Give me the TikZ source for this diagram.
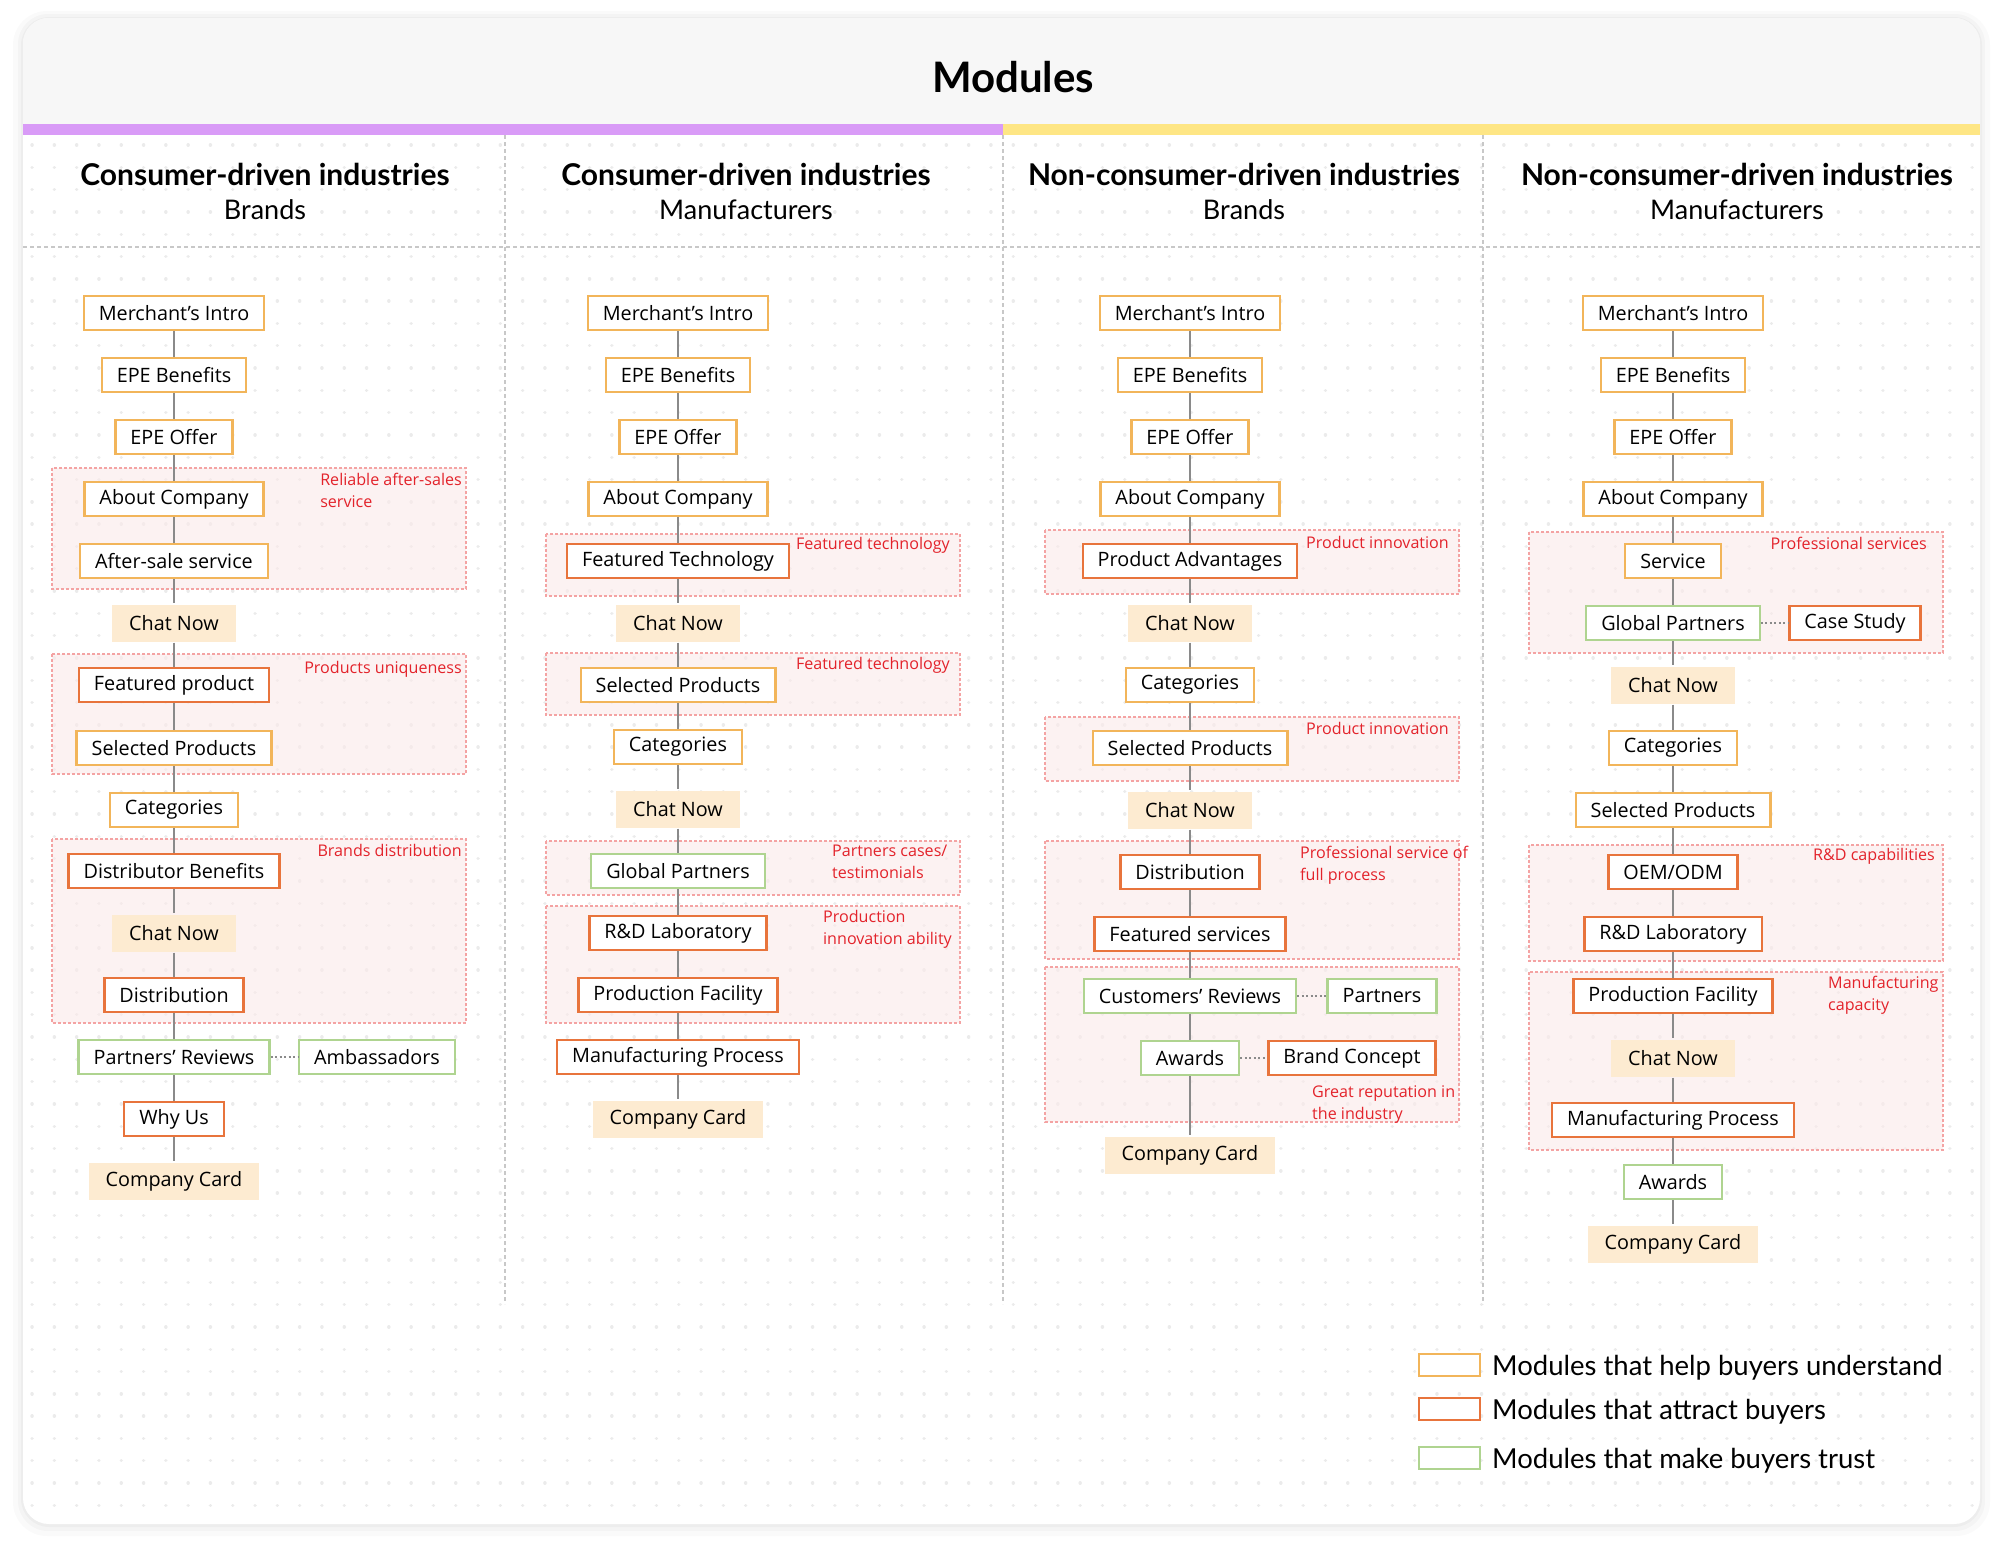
\documentclass[tikz,border=0pt]{standalone}
\usepackage{fontspec}
\setmainfont{Open Sans}
\newfontfamily\headfont{Lato}
\usepackage{xcolor}
\usetikzlibrary{positioning}

\definecolor{understandc}{HTML}{F2B55A}
\definecolor{attractc}{HTML}{E8743C}
\definecolor{trustc}{HTML}{AFD490}
\definecolor{ctafill}{HTML}{FDEBD1}
\definecolor{linkgray}{HTML}{8A8A8A}
\definecolor{notered}{HTML}{E3232B}
\definecolor{groupred}{HTML}{F4A3A3}
\definecolor{groupfill}{HTML}{FBEAEA}
\definecolor{titlegray}{HTML}{F7F7F7}
\definecolor{barviolet}{HTML}{D99BF7}
\definecolor{baryellow}{HTML}{FEE685}
\definecolor{dotgray}{HTML}{EBEBEB}
\definecolor{sepgray}{HTML}{C8C8C8}

\tikzset{
	modbox/.style={draw, line width=2.4pt, fill=white, minimum height=34pt, inner xsep=15pt, inner ysep=0pt, font=\fontsize{19.8}{22}\selectfont},
	understand/.style={modbox, draw=understandc},
	attract/.style={modbox, draw=attractc},
	trust/.style={modbox, draw=trustc},
	cta/.style={modbox, draw=none, fill=ctafill, minimum height=37pt, inner xsep=17pt},
	link/.style={draw=linkgray, line width=2pt},
	sidelink/.style={draw=linkgray, line width=1.6pt, dash pattern=on 2pt off 2.5pt},
	group/.style={draw=groupred, line width=1.3pt, dash pattern=on 3pt off 2pt, fill=groupfill, fill opacity=0.6},
	note/.style={text=notered, font=\fontsize{16.1}{22}\selectfont, align=left, inner sep=0pt},
	headbold/.style={font=\headfont\bfseries\fontsize{30}{34}\selectfont, inner sep=0pt},
	headreg/.style={font=\headfont\fontsize{27}{32}\selectfont, inner sep=0pt},
	legendbox/.style={draw, line width=2pt, fill=white, minimum width=61pt, minimum height=22pt, inner sep=0pt},
	legendtext/.style={font=\headfont\fontsize{27.5}{32}\selectfont, inner sep=0pt, anchor=west},
	dotrow/.style={dotgray, line width=3.4pt, line cap=round, dash pattern=on 0.1pt off 22.2pt},
	sepline/.style={sepgray, line width=1.2pt, dash pattern=on 4pt off 3pt}
}

\begin{document}
\begin{tikzpicture}[x=1pt,y=-1pt]
		\useasboundingbox (0,0) rectangle (2000,1550);
		
		\fill[black!60, opacity=0.03, rounded corners=34pt] (13,11) rectangle (1990,1536);
		\fill[black!60, opacity=0.04, rounded corners=30pt] (18,14) rectangle (1985,1531);
		\fill[black!60, opacity=0.05, rounded corners=28pt] (21,17) rectangle (1982,1527);
		\fill[white, rounded corners=26pt] (23,18) rectangle (1980,1524);
		
		\begin{scope}
			\clip[rounded corners=26pt] (23,18) rectangle (1980,1524);
			\fill[titlegray] (23,18) rectangle (1980,124);
			\fill[barviolet] (23,124) rectangle (1003,135);
			\fill[baryellow] (1003,124) rectangle (1980,135);
			\foreach \r in {0,...,61}
				\draw[dotrow] (32,145+22.3*\r) -- (1978,145+22.3*\r);
		\end{scope}
		
		\node[font=\headfont\bfseries\fontsize{42}{50}\selectfont, inner sep=0pt] (title) at (1013,77) {Modules};
		
		\draw[sepline] (23,247) -- (1980,247);
		\draw[sepline] (505,135) -- (505,1304);
		\draw[sepline] (1003,135) -- (1003,1304);
		\draw[sepline] (1483,135) -- (1483,1304);
		
		\node[headbold] (hA) at (265,174) {Consumer-driven industries};
		\node[headreg] (hAsub) at (265,210) {Brands};
		\node[headbold] (hB) at (746,174) {Consumer-driven industries};
		\node[headreg] (hBsub) at (746,210) {Manufacturers};
		\node[headbold] (hC) at (1244,174) {Non-consumer-driven industries};
		\node[headreg] (hCsub) at (1244,210) {Brands};
		\node[headbold] (hD) at (1737,174) {Non-consumer-driven industries};
		\node[headreg] (hDsub) at (1737,210) {Manufacturers};
		
		\draw[group] (52,468) rectangle (466,589);
		\draw[group] (52,654) rectangle (466,774);
		\draw[group] (52,839) rectangle (466,1023);
		
		\draw[group] (546,534) rectangle (960,596);
		\draw[group] (546,653) rectangle (960,715);
		\draw[group] (546,841) rectangle (960,895);
		\draw[group] (546,906) rectangle (960,1023);
		
		\draw[group] (1045,530) rectangle (1459,594);
		\draw[group] (1045,717) rectangle (1459,781);
		\draw[group] (1045,841) rectangle (1459,959);
		\draw[group] (1045,967) rectangle (1459,1122);
		
		\draw[group] (1529,532) rectangle (1943,653);
		\draw[group] (1529,845) rectangle (1943,961);
		\draw[group] (1529,972) rectangle (1943,1150);
		
		\node[note, anchor=north east] (aNoteA) at (462,473) {Reliable after-sales\\service};
		\node[note, anchor=north east] (aNoteB) at (462,661) {Products uniqueness};
		\node[note, anchor=north east] (aNoteC) at (462,844) {Brands distribution};
		
		\node[note, anchor=north east] (bNoteA) at (950,537) {Featured technology};
		\node[note, anchor=north east] (bNoteB) at (950,657) {Featured technology};
		\node[note, anchor=north west] (bNoteC) at (832,845) {Partners cases/\\testimonials};
		\node[note, anchor=north east] (bNoteD) at (952,910) {Production\\innovation ability};
		
		\node[note, anchor=north east] (cNoteA) at (1449,536) {Product innovation};
		\node[note, anchor=north east] (cNoteB) at (1449,722) {Product innovation};
		\node[note, anchor=north west] (cNoteC) at (1300,846) {Professional service of\\full process};
		\node[note, anchor=north west] (cNoteD) at (1312,1085) {Great reputation in\\the industry};
		
		\node[note, anchor=north east] (dNoteA) at (1927,537) {Professional services};
		\node[note, anchor=north east] (dNoteB) at (1935,848) {R\&D capabilities};
		\node[note, anchor=north west] (dNoteC) at (1828,976) {Manufacturing\\capacity};
		
		\node[understand] (aIntro) at (174,313) {Merchant’s Intro};
		\node[understand] (aBen) at (174,375) {EPE Benefits};
		\node[understand] (aOffer) at (174,437) {EPE Offer};
		\node[understand] (aAbout) at (174,499) {About Company};
		\node[understand] (aAfter) at (174,561) {After-sale service};
		\node[cta] (aChatA) at (174,623) {Chat Now};
		\node[attract] (aFeat) at (174,685) {Featured product};
		\node[understand] (aSel) at (174,748) {Selected Products};
		\node[understand] (aCat) at (174,810) {Categories};
		\node[attract] (aDistBen) at (174,871) {Distributor Benefits};
		\node[cta] (aChatB) at (174,933) {Chat Now};
		\node[attract] (aDist) at (174,995) {Distribution};
		\node[trust] (aRev) at (174,1057) {Partners’ Reviews};
		\node[trust] (aAmb) at (377,1057) {Ambassadors};
		\node[attract] (aWhy) at (174,1119) {Why Us};
		\node[cta] (aCard) at (174,1181) {Company Card};
		
		\node[understand] (bIntro) at (678,313) {Merchant’s Intro};
		\node[understand] (bBen) at (678,375) {EPE Benefits};
		\node[understand] (bOffer) at (678,437) {EPE Offer};
		\node[understand] (bAbout) at (678,499) {About Company};
		\node[attract] (bTech) at (678,561) {Featured Technology};
		\node[cta] (bChatA) at (678,623) {Chat Now};
		\node[understand] (bSel) at (678,685) {Selected Products};
		\node[understand] (bCat) at (678,747) {Categories};
		\node[cta] (bChatB) at (678,809) {Chat Now};
		\node[trust] (bGlobal) at (678,871) {Global Partners};
		\node[attract] (bLab) at (678,933) {R\&D Laboratory};
		\node[attract] (bFac) at (678,995) {Production Facility};
		\node[attract] (bProc) at (678,1057) {Manufacturing Process};
		\node[cta] (bCard) at (678,1119) {Company Card};
		
		\node[understand] (cIntro) at (1190,313) {Merchant’s Intro};
		\node[understand] (cBen) at (1190,375) {EPE Benefits};
		\node[understand] (cOffer) at (1190,437) {EPE Offer};
		\node[understand] (cAbout) at (1190,499) {About Company};
		\node[attract] (cAdv) at (1190,561) {Product Advantages};
		\node[cta] (cChatA) at (1190,623) {Chat Now};
		\node[understand] (cCat) at (1190,685) {Categories};
		\node[understand] (cSel) at (1190,748) {Selected Products};
		\node[cta] (cChatB) at (1190,810) {Chat Now};
		\node[attract] (cDist) at (1190,872) {Distribution};
		\node[attract] (cServ) at (1190,934) {Featured services};
		\node[trust] (cRev) at (1190,996) {Customers’ Reviews};
		\node[trust] (cPart) at (1382,996) {Partners};
		\node[trust] (cAwards) at (1190,1058) {Awards};
		\node[attract] (cBrand) at (1352,1058) {Brand Concept};
		\node[cta] (cCard) at (1190,1155) {Company Card};
		
		\node[understand] (dIntro) at (1673,313) {Merchant’s Intro};
		\node[understand] (dBen) at (1673,375) {EPE Benefits};
		\node[understand] (dOffer) at (1673,437) {EPE Offer};
		\node[understand] (dAbout) at (1673,499) {About Company};
		\node[understand] (dServ) at (1673,561) {Service};
		\node[trust] (dGlobal) at (1673,623) {Global Partners};
		\node[attract] (dCase) at (1855,623) {Case Study};
		\node[cta] (dChatA) at (1673,685) {Chat Now};
		\node[understand] (dCat) at (1673,748) {Categories};
		\node[understand] (dSel) at (1673,810) {Selected Products};
		\node[attract] (dOEM) at (1673,872) {OEM/ODM};
		\node[attract] (dLab) at (1673,934) {R\&D Laboratory};
		\node[attract] (dFac) at (1673,996) {Production Facility};
		\node[cta] (dChatB) at (1673,1058) {Chat Now};
		\node[attract] (dProc) at (1673,1120) {Manufacturing Process};
		\node[trust] (dAwards) at (1673,1182) {Awards};
		\node[cta] (dCard) at (1673,1244) {Company Card};
		
		\draw[link] (aIntro) -- (aBen) -- (aOffer) -- (aAbout) -- (aAfter) -- (aChatA) -- (aFeat) -- (aSel) -- (aCat) -- (aDistBen) -- (aChatB) -- (aDist) -- (aRev) -- (aWhy) -- (aCard);
		\draw[sidelink] (aRev) -- (aAmb);
		
		\draw[link] (bIntro) -- (bBen) -- (bOffer) -- (bAbout) -- (bTech) -- (bChatA) -- (bSel) -- (bCat) -- (bChatB) -- (bGlobal) -- (bLab) -- (bFac) -- (bProc) -- (bCard);
		
		\draw[link] (cIntro) -- (cBen) -- (cOffer) -- (cAbout) -- (cAdv) -- (cChatA) -- (cCat) -- (cSel) -- (cChatB) -- (cDist) -- (cServ) -- (cRev) -- (cAwards) -- (cCard);
		\draw[sidelink] (cRev) -- (cPart);
		\draw[sidelink] (cAwards) -- (cBrand);
		
		\draw[link] (dIntro) -- (dBen) -- (dOffer) -- (dAbout) -- (dServ) -- (dGlobal) -- (dChatA) -- (dCat) -- (dSel) -- (dOEM) -- (dLab) -- (dFac) -- (dChatB) -- (dProc) -- (dAwards) -- (dCard);
		\draw[sidelink] (dGlobal) -- (dCase);
		
		\node[legendbox, draw=understandc] (lgU) at (1449,1365) {};
		\node[legendtext] (lgUtext) at (1492,1368) {Modules that help buyers understand};
		\node[legendbox, draw=attractc] (lgA) at (1449,1409) {};
		\node[legendtext] (lgAtext) at (1492,1412) {Modules that attract buyers};
		\node[legendbox, draw=trustc] (lgT) at (1449,1458) {};
		\node[legendtext] (lgTtext) at (1492,1461) {Modules that make buyers trust};
\end{tikzpicture}
\end{document}
